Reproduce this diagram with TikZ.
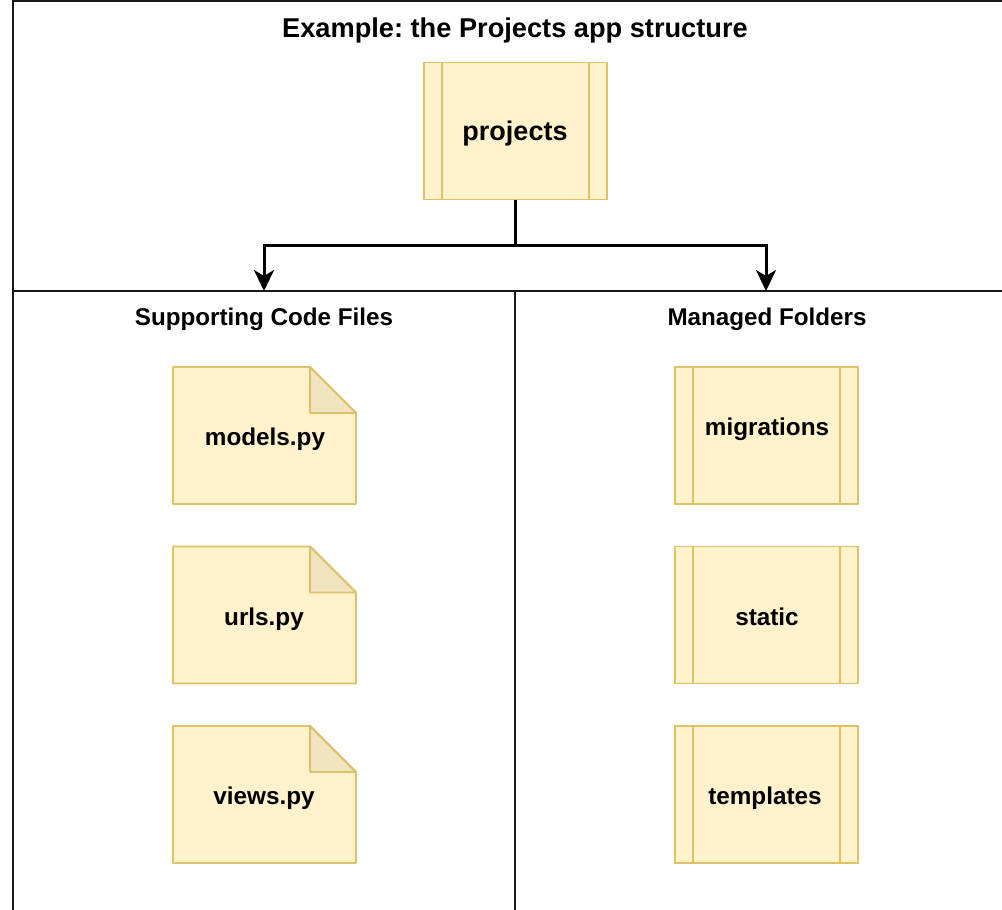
\documentclass[tikz,border=0pt]{standalone}
\usepackage{fontspec}
\setmainfont{Liberation Sans}
\usetikzlibrary{arrows.meta}
\frenchspacing
\definecolor{boxfill}{HTML}{FFF2CC}
\definecolor{boxline}{HTML}{DFC166}
\definecolor{foldfill}{HTML}{F0E4C0}
\tikzset{
  panelline/.style={line width=1.4pt,black!90},
  link/.style={line width=3pt,black,-{Stealth[length=21pt,width=20pt,inset=6pt]}},
  linkstem/.style={line width=3pt,black},
  folderbox/.style={draw=boxline,fill=boxfill,line width=1.8pt,minimum width=183pt,minimum height=137pt,inner sep=0pt,outer sep=0pt},
  docbox/.style={minimum width=183pt,minimum height=137pt,inner sep=0pt,outer sep=0pt},
  docbody/.style={draw=boxline,fill=boxfill,line width=1.8pt,line join=round},
  docfold/.style={draw=boxline,fill=foldfill,line width=1.8pt,line join=round},
  innerline/.style={draw=boxline,line width=1.8pt},
  title/.style={font=\bfseries\fontsize{27.2}{30}\selectfont,text=black},
  heading/.style={font=\bfseries\fontsize{24.2}{28}\selectfont,text=black},
  boxtext/.style={font=\bfseries\fontsize{24.3}{28}\selectfont,text=black,inner sep=0pt},
  bigtext/.style={font=\bfseries\fontsize{27}{30}\selectfont,text=black,inner sep=0pt},
}
\newcommand{\folderat}[3]{%
  \node[folderbox] (#1) at (#2,#3) {};
  \draw[innerline] ([xshift=18pt]#1.north west) -- ([xshift=18pt]#1.south west);
  \draw[innerline] ([xshift=-18pt]#1.north east) -- ([xshift=-18pt]#1.south east);
}
\newcommand{\docat}[3]{%
  \node[docbox] (#1) at (#2,#3) {};
  \draw[docbody] (#1.north west) -- ([xshift=-46pt]#1.north east) -- ([yshift=-46pt]#1.north east) -- (#1.south east) -- (#1.south west) -- cycle;
  \draw[docfold] ([xshift=-46pt]#1.north east) -- ([xshift=-46pt,yshift=-46pt]#1.north east) -- ([yshift=-46pt]#1.north east) -- cycle;
}
\begin{document}
\begin{tikzpicture}[x=1pt,y=-1pt]
\useasboundingbox (0,0) rectangle (1002,910);
\fill[white] (0,0) rectangle (1002,910);
% panel frame
\coordinate (tl) at (13,1);
\coordinate (tr) at (1002,1);
\coordinate (ml) at (13,291);
\coordinate (mr) at (1002,291);
\coordinate (bl) at (13,910);
\coordinate (mm) at (515,291);
\coordinate (bm) at (515,910);
\draw[panelline] (tr) -- (tl) -- (bl);
\draw[panelline] (ml) -- (mr);
\draw[panelline] (mm) -- (bm);
\coordinate (lefttop) at (264,291);
\coordinate (righttop) at (766,291);
% texts
\node[title] (ttl) at (515,30) {Example: the Projects app structure};
\node[heading] (hl) at (264,319) {Supporting Code Files};
\node[heading] (hr) at (767,319) {Managed Folders};
% top box
\folderat{prj}{515.5}{131}
\node[bigtext] (prjt) at (515,134) {projects};
% connectors
\coordinate (junction) at (prj.south |- 0,245);
\draw[linkstem] (prj.south) -- (junction);
\draw[link] (junction) -| (lefttop);
\draw[link] (junction) -| (righttop);
% docs
\docat{mod}{264.5}{435.5}
\docat{url}{264.5}{615}
\docat{vie}{264.5}{794.5}
\node[boxtext] (modt) at (265,439) {models.py};
\node[boxtext] (urlt) at (264,619) {urls.py};
\node[boxtext] (viet) at (264,798) {views.py};
% folders
\folderat{mig}{766.5}{435.5}
\folderat{sta}{766.5}{615}
\folderat{tem}{766.5}{794.5}
\node[boxtext] (migt) at (767,429) {migrations};
\node[boxtext] (stat) at (767,617) {static};
\node[boxtext] (temt) at (765,798) {templates};
\end{tikzpicture}
\end{document}
